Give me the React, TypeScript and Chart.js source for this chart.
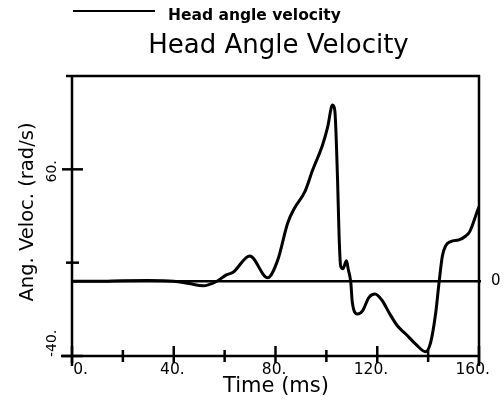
import React, { useEffect, useRef } from "react";
import { Chart, registerables } from "chart.js";

Chart.register(...registerables);

const chartTitle = "Head Angle Velocity";
const seriesName = "Head angle velocity";
const xTitle = "Time (ms)";
const yTitle = "Ang. Veloc. (rad/s)";

const timeMs = [
  0, 10, 20, 30, 40, 46, 51.5, 56.8, 60.7, 63.2, 69.9, 76.9, 80.9, 84.8, 87.5, 91.5,
  94.6, 98.5, 100.5, 102.4, 103.3, 104.4, 105, 105.6, 106.5, 107.9, 108.6, 109.6,
  110.2, 112.2, 114.2, 116.7, 119.1, 122.0, 124.6, 127.9, 131.2, 135.1, 139.0,
  141.0, 143.0, 144.3, 145.6, 146.9, 148.9, 152.1, 154.8, 156.3, 159.5, 160,
];
const velocity = [
  0, 0, 0.3, 0.4, 0, -1.2, -2.4, -0.1, 3.5, 4.7, 13.6, 1.9, 11.5, 31.3, 39.3, 47.9,
  59.6, 73.0, 82.6, 94.4, 91.7, 54.3, 24.3, 8.3, 6.8, 11.0, 6.5, -0.6,
  -11.3, -17.5, -15.8, -8.7, -6.8, -10.4, -16.7, -23.8, -28.2, -33.6, -37.7,
  -32.7, -16.7, -0.6, 13.6, 19.0, 21.3, 22.2, 24.3, 26.5, 38.2, 40,
];

const xMajorTicks = [0, 40, 80, 120, 160];
const xMajorLabels = ["0.", "40.", "80.", "120.", "160."];
const xMinorTicks = [20, 60, 100, 140];
const yMajorTicks = [-40, 60];
const yMajorLabels = ["-40.", "60."];
const yMinorTicks = [10];
const referenceValue = 0;
const referenceLabel = "0";

const FONT = "'DejaVu Sans', 'Liberation Sans', Arial, sans-serif";

const framePlugin = {
  id: "framePlugin",
  afterDraw(chart: any) {
    const ctx = chart.ctx as CanvasRenderingContext2D;
    const xs = chart.scales.x;
    const ys = chart.scales.y;
    const { left, right, top, bottom } = chart.chartArea;
    ctx.save();
    ctx.strokeStyle = "#000";
    ctx.fillStyle = "#000";
    ctx.lineCap = "butt";

    const line = (x1: number, y1: number, x2: number, y2: number, w: number) => {
      ctx.lineWidth = w;
      ctx.beginPath();
      ctx.moveTo(x1, y1);
      ctx.lineTo(x2, y2);
      ctx.stroke();
    };

    // frame
    line(left - 6, top, right + 1, top, 2.5);
    line(left, top - 1, left, bottom + 10, 2.5);
    line(right, top - 1, right, bottom + 10, 2.5);
    line(left - 11, bottom, right + 1, bottom, 2.5);

    // reference line
    const y0 = ys.getPixelForValue(referenceValue);
    line(left, y0, right + 2, y0, 2.5);
    ctx.font = `15px ${FONT}`;
    ctx.textAlign = "left";
    ctx.textBaseline = "middle";
    ctx.fillText(referenceLabel, 491, y0);

    // x ticks
    xMajorTicks.forEach((v) => {
      const px = xs.getPixelForValue(v);
      line(px, bottom - 10, px, bottom + 7, 2.5);
    });
    xMinorTicks.forEach((v) => {
      const px = xs.getPixelForValue(v);
      line(px, bottom - 6, px, bottom + 6, 2.5);
    });
    ctx.font = `15.5px ${FONT}`;
    ctx.textBaseline = "alphabetic";
    ctx.textAlign = "right";
    xMajorTicks.forEach((v, i) => {
      const px = xs.getPixelForValue(v);
      ctx.fillText(xMajorLabels[i], px + (i === 0 ? 16 : 11), bottom + 18);
    });

    // y ticks
    yMajorTicks.forEach((v) => {
      const py = ys.getPixelForValue(v);
      line(left - 10, py, left + 11, py, 2.5);
    });
    yMinorTicks.forEach((v) => {
      const py = ys.getPixelForValue(v);
      line(left - 6, py, left + 7, py, 2.5);
    });
    ctx.font = `14px ${FONT}`;
    ctx.textAlign = "center";
    ctx.textBaseline = "middle";
    yMajorTicks.forEach((v, i) => {
      const py = ys.getPixelForValue(v);
      const w = ctx.measureText(yMajorLabels[i]).width;
      const cy = Math.min(py + 2, bottom + 1 - w / 2);
      ctx.save();
      ctx.translate(52, cy);
      ctx.rotate(-Math.PI / 2);
      ctx.fillText(yMajorLabels[i], 0, 0);
      ctx.restore();
    });

    // axis titles
    ctx.font = `21px ${FONT}`;
    ctx.textAlign = "center";
    ctx.textBaseline = "alphabetic";
    ctx.fillText(xTitle, 276, 392);

    ctx.font = `19.5px ${FONT}`;
    ctx.textBaseline = "middle";
    ctx.save();
    ctx.translate(28, 212);
    ctx.rotate(-Math.PI / 2);
    ctx.fillText(yTitle, 0, 0);
    ctx.restore();

    // title
    ctx.font = `26px ${FONT}`;
    ctx.textBaseline = "alphabetic";
    ctx.fillText(chartTitle, 278.5, 53);

    // legend
    line(73, 11, 155, 11, 2);
    ctx.font = `bold 15.5px ${FONT}`;
    ctx.textAlign = "left";
    ctx.fillText(seriesName, 168, 20);

    ctx.restore();
  },
};

export default function App() {
  const ref = useRef<HTMLCanvasElement>(null);
  useEffect(() => {
    document.body.style.margin = "0";
    const chart = new Chart(ref.current!, {
      type: "line",
      data: {
        datasets: [
          {
            label: seriesName,
            data: timeMs.map((t, i) => ({ x: t, y: velocity[i] })),
            borderColor: "#000",
            borderWidth: 3,
            pointRadius: 0,
            cubicInterpolationMode: "monotone",
            fill: false,
          },
        ],
      },
      options: {
        responsive: false,
        animation: false,
        layout: { padding: { left: 72, right: 25, top: 76, bottom: 58 } },
        plugins: {
          legend: { display: false },
          title: { display: false },
          tooltip: { enabled: false },
        },
        scales: {
          x: { type: "linear", min: 0, max: 160, display: false },
          y: { type: "linear", min: -40, max: 110, display: false },
        },
      },
      plugins: [framePlugin],
    });
    return () => chart.destroy();
  }, []);
  return <canvas ref={ref} width={504} height={414} style={{ display: "block" }} />;
}
